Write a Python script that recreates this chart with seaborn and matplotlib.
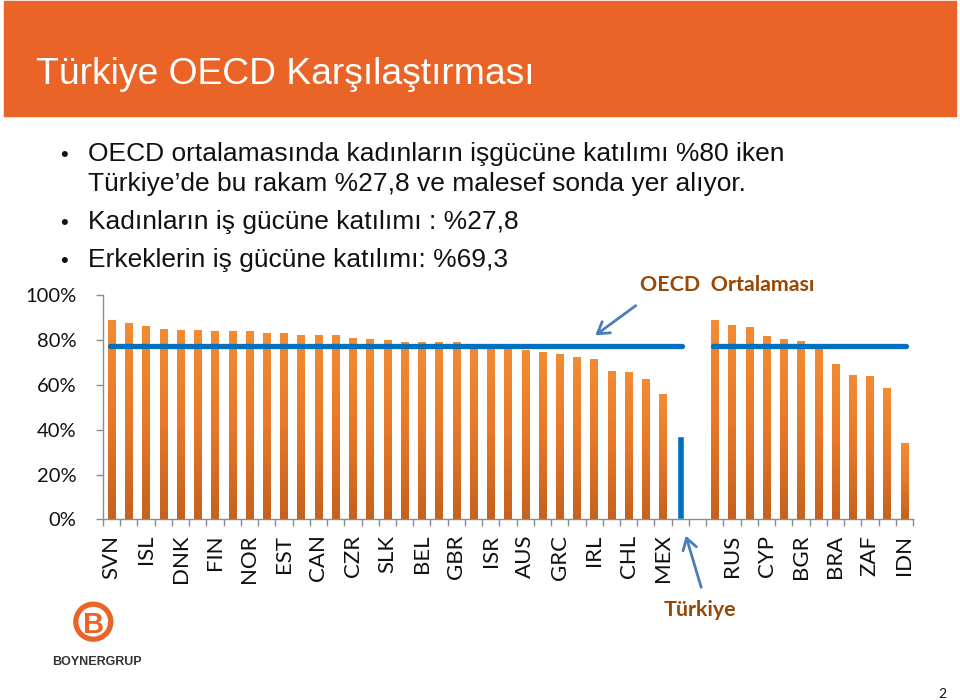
import numpy as np
import pandas as pd
import matplotlib
matplotlib.use("Agg")
import matplotlib.pyplot as plt
import seaborn as sns
from matplotlib.patches import Rectangle, Circle
from matplotlib.ticker import FuncFormatter, FixedLocator

# ---------------- data ----------------
oecd_labels = ["SVN", "", "ISL", "", "DNK", "", "FIN", "", "NOR", "", "EST", "",
               "CAN", "", "CZR", "", "SLK", "", "BEL", "", "GBR", "", "ISR", "",
               "AUS", "", "GRC", "", "IRL", "", "CHL", "", "MEX", ""]
oecd_values = [89.1, 87.6, 86.3, 85.2, 84.7, 84.5, 84.2, 84.0, 84.0, 83.4, 83.3,
               82.4, 82.4, 82.4, 80.9, 80.4, 80.3, 79.2, 79.2, 79.2, 79.1, 78.2,
               77.9, 77.6, 75.5, 74.6, 73.9, 72.4, 71.8, 66.4, 66.0, 62.9, 55.9,
               37.2]
turkey_index = 33          # Türkiye, last bar of the OECD group
other_labels = ["", "RUS", "", "CYP", "", "BGR", "", "BRA", "", "ZAF", "", "IDN"]
other_values = [89.1, 86.8, 85.8, 81.9, 80.4, 79.8, 77.0, 69.3, 64.4, 64.0, 58.5, 34.0]
oecd_avg = 77.6
y_ticks = [0, 20, 40, 60, 80, 100]

title = "Türkiye OECD Karşılaştırması"
bullets = [
    ("OECD ortalamasında kadınların işgücüne katılımı %80 iken", True),
    ("Türkiye’de bu rakam %27,8 ve malesef sonda yer alıyor.", False),
    ("Kadınların iş gücüne katılımı : %27,8", True),
    ("Erkeklerin iş gücüne katılımı: %69,3", True),
]

# ---------------- frame ----------------
n1, n2 = len(oecd_labels), len(other_labels)
keys1 = [f"o{i}" for i in range(n1)]
keys2 = [f"n{i}" for i in range(n2)]
order = keys1 + ["gap"] + keys2
tick_labels = oecd_labels + [""] + other_labels
kinds = ["tr" if i == turkey_index else "bar" for i in range(n1)] + ["bar"] * n2
df = pd.DataFrame({"key": keys1 + keys2,
                   "value": oecd_values + other_values,
                   "kind": kinds})

ORANGE = "#EC7C26"
BLUE = "#0070C0"
BROWN = "#984806"
HEADER = "#EA6428"
GRAY = "#8C8C8C"

W, H = 960, 700
fig = plt.figure(figsize=(W / 100, H / 100), dpi=100)
sns.set_style("white")

def fx(x):
    return x / W

def fy(y):
    return 1 - y / H

# header
fig.patches.append(Rectangle((fx(4), fy(116)), fx(952), 115 / H,
                             transform=fig.transFigure, color=HEADER, zorder=0))
fig.text(fx(36), fy(84), title, color="white", fontsize=26.8,
         family="Liberation Sans", va="baseline", ha="left")

# bullets
bl = [161, 191, 229, 267]
for (txt, dot), yb in zip(bullets, bl):
    if dot:
        fig.text(fx(60), fy(yb), "•", fontsize=16, family="Liberation Sans",
                 va="baseline", ha="left", color="#111111")
    fig.text(fx(88), fy(yb), txt, fontsize=19, family="Liberation Sans",
             va="baseline", ha="left", color="#111111")

# ---------------- axes ----------------
ax = fig.add_axes([fx(103), 1 - 519.3 / H, 810 / W, 223.8 / H])
sns.barplot(data=df, x="key", y="value", hue="kind", order=order,
            palette={"bar": ORANGE, "tr": BLUE}, dodge=False, width=0.43,
            saturation=1, legend=False, ax=ax)

# gradient fill for orange bars
grad = np.linspace(0, 1, 256).reshape(-1, 1)
cmap = matplotlib.colors.LinearSegmentedColormap.from_list(
    "g", ["#C4621E", "#E8782A", "#F28C33"])
for p in list(ax.patches):
    h = p.get_height()
    if not np.isfinite(h) or h <= 0:
        continue
    fc = matplotlib.colors.to_hex(p.get_facecolor())
    if fc.lower() == ORANGE.lower():
        x0 = p.get_x()
        w = p.get_width()
        im = ax.imshow(grad, extent=[x0, x0 + w, 0, h], origin="lower",
                       cmap=cmap, aspect="auto", zorder=p.get_zorder() + 0.1)
        im.set_clip_path(p)

# OECD average lines
ax.plot([-0.1, n1 - 1 + 0.08], [oecd_avg, oecd_avg], color=BLUE, lw=3.8,
        solid_capstyle="round", zorder=5)
ax.plot([n1 + 1 - 0.12, n1 + n2 + 0.1], [oecd_avg, oecd_avg], color=BLUE, lw=3.8,
        solid_capstyle="round", zorder=5)

ax.set_xlim(-0.5, len(order) - 0.5)
ax.set_ylim(0, 100)
ax.set_xlabel("")
ax.set_ylabel("")
ax.set_yticks(y_ticks)
ax.yaxis.set_major_formatter(FuncFormatter(lambda v, _: f"{int(v)}%"))
ax.set_xticks(range(len(order)))
ax.set_xticklabels(tick_labels, rotation=90)
ax.xaxis.set_minor_locator(FixedLocator(np.arange(-0.5, len(order), 1)))
ax.tick_params(axis="x", which="major", length=0, pad=11, labelsize=16,
               labelcolor="#111111")
ax.tick_params(axis="x", which="minor", length=5, color=GRAY, width=1,
               direction="out", bottom=True)
ax.tick_params(axis="y", length=5, color=GRAY, width=1, direction="out",
               left=True, labelsize=14.5, labelcolor="#111111", pad=14)
for lab in ax.get_xticklabels() + ax.get_yticklabels():
    lab.set_family("Lato")
for s in ["top", "right"]:
    ax.spines[s].set_visible(False)
for s in ["left", "bottom"]:
    ax.spines[s].set_color(GRAY)
    ax.spines[s].set_linewidth(1)
ax.grid(False)
ax.set_facecolor("none")

# annotations
fig.text(fx(640), fy(291.5), "OECD  Ortalaması", color=BROWN, fontsize=15.4,
         family="Lato", fontweight="bold", va="baseline", ha="left")
fig.text(fx(664), fy(616.5), "Türkiye", color=BROWN, fontsize=15.4,
         family="Lato", fontweight="bold", va="baseline", ha="left")
arrow_kw = dict(arrowstyle="->,head_length=0.8,head_width=0.5",
                color="#4A7EBB", lw=2)
ax.annotate("", xy=(593, H - 337), xytext=(638, H - 304),
            xycoords="figure pixels", textcoords="figure pixels",
            arrowprops=arrow_kw, annotation_clip=False)
ax.annotate("", xy=(685, H - 533), xytext=(702, H - 590),
            xycoords="figure pixels", textcoords="figure pixels",
            arrowprops=arrow_kw, annotation_clip=False)

# logo
fig.add_artist(Circle((0.933, (H - 621.7) / 100), 0.175,
                      transform=fig.dpi_scale_trans, fill=False,
                      edgecolor=HEADER, lw=3.8))
fig.text(fx(93.8), fy(621.7), "B", color=HEADER, fontsize=21, fontweight="bold",
         family="Liberation Sans", ha="center", va="center_baseline")
fig.text(fx(96.5), fy(665), "BOYNERGRUP", color="#333333", fontsize=9,
         fontweight="bold", family="Liberation Sans", ha="center", va="baseline")

# page number
fig.text(fx(942), fy(698), "2", fontsize=10, family="Lato", ha="center",
         va="baseline", color="#111111")

fig.savefig("out.png", dpi=100)
